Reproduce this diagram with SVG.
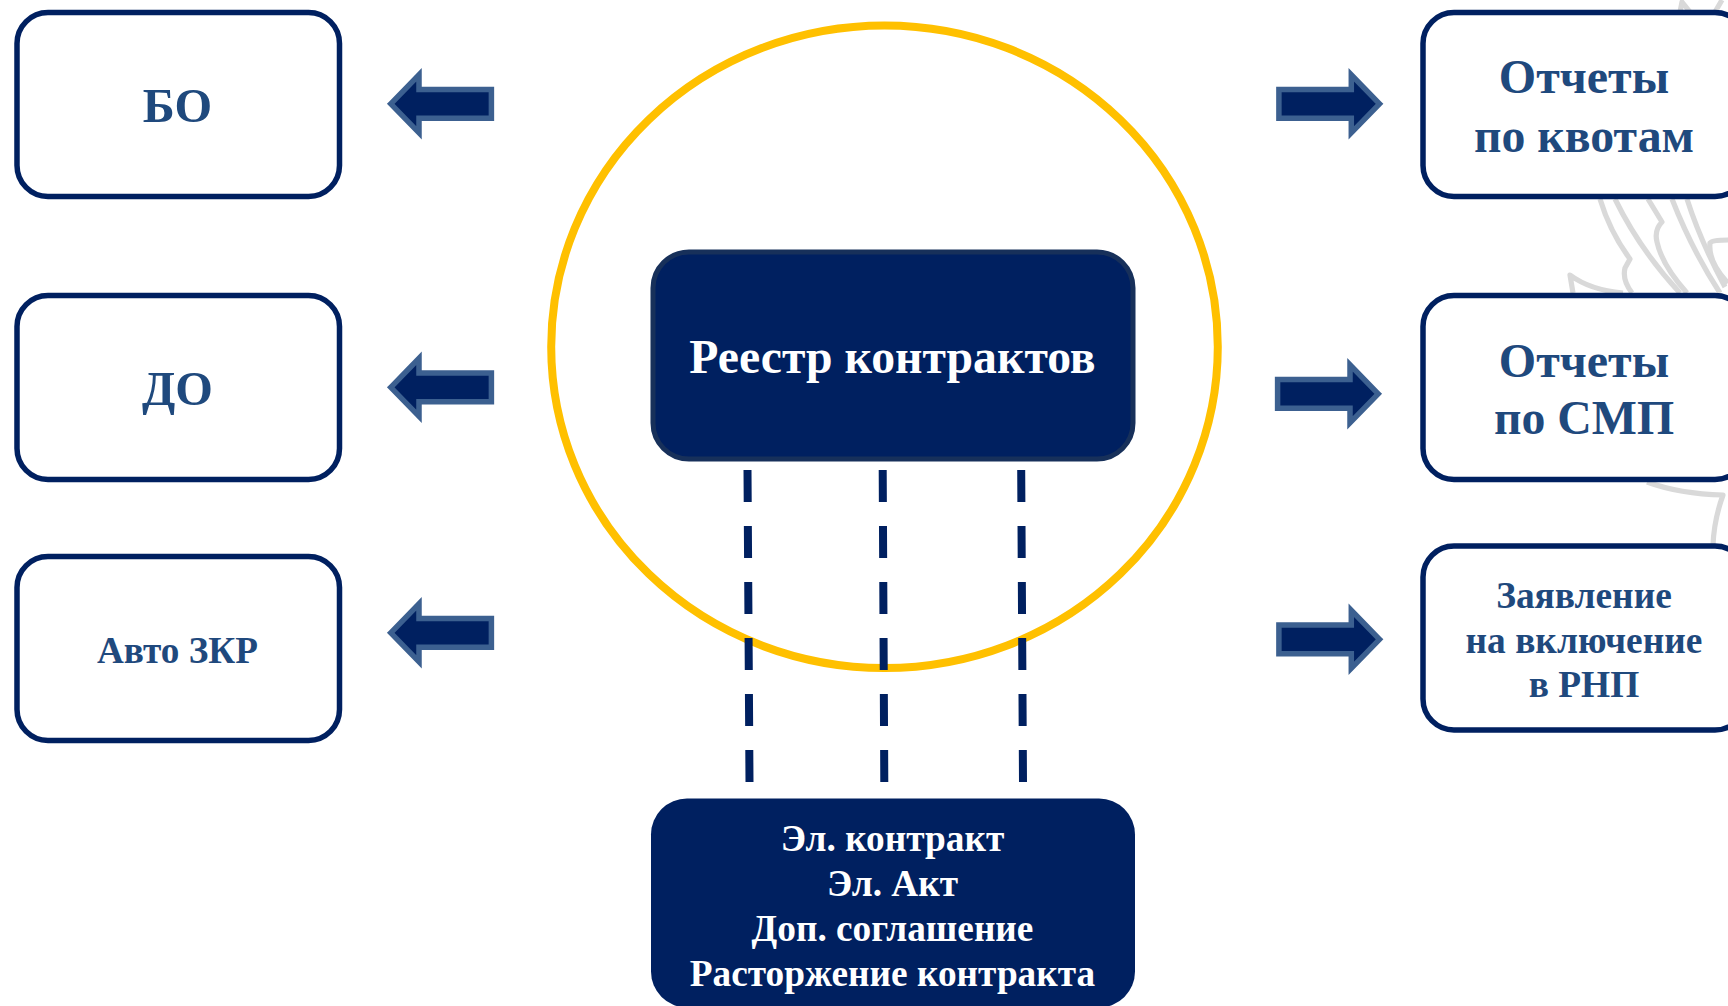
<svg xmlns="http://www.w3.org/2000/svg" width="1728" height="1006" viewBox="0 0 1728 1006">
<style>
text{font-family:"Liberation Serif","Times New Roman",serif;font-weight:700;text-anchor:middle}
.box{fill:#fff;stroke:#002060;stroke-width:5.5}
.lbl{fill:#1f497d}
.wht{fill:#fff}
.dark{fill:#002060}
.arrow{fill:#002060;stroke:#3c6090;stroke-width:5.5}
.wm{fill:none;stroke:#d9d9d9;stroke-width:5.2;stroke-linejoin:round}
.dash{stroke:#002060;stroke-width:8;stroke-dasharray:32 24;fill:none}
</style>
<defs>
<polygon id="arrowL" points="3.75,0 32,-29 32,-14.4 104.4,-14.4 104.4,14.4 32,14.4 32,29"/>
</defs>
<rect width="1728" height="1006" fill="#fff"/>
<g id="watermark">
<path class="wm" d="M1600 199Q1610 232 1630 259L1625 268Q1622 280 1632 293"/>
<path class="wm" d="M1615 199Q1640 250 1680 293"/>
<path class="wm" d="M1648 199L1662 222Q1654 230 1657 242Q1662 265 1687 293"/>
<path class="wm" d="M1672 199Q1692 250 1720 293"/>
<path class="wm" d="M1687 199Q1700 240 1725 287"/>
<path class="wm" d="M1728 240Q1712 240 1710 243Q1708 262 1728 283"/>
<path class="wm" d="M1573 293L1570 275Q1590 290 1623 293"/>
<path class="wm" d="M1680 12L1682 2L1690 12M1722 0L1715 12"/>
<path class="wm" d="M1647 482Q1680 494 1723 495Q1714 520 1713 545"/>
</g>
<g id="circle"><ellipse cx="884.5" cy="346.8" rx="333.3" ry="321.3" fill="none" stroke="#ffc000" stroke-width="8"/></g>
<g id="connectors">
<path class="dash" d="M747.5 470L749.5 782.5"/>
<path class="dash" d="M882.7 470L884.3 782.5"/>
<path class="dash" d="M1021.2 470L1023 782.5"/>
<use class="arrow" href="#arrowL" transform="translate(387 103.8)"/>
<use class="arrow" href="#arrowL" transform="translate(387 387.3)"/>
<use class="arrow" href="#arrowL" transform="translate(387 632.8)"/>
<use class="arrow" href="#arrowL" transform="translate(1383.3 103.8) scale(-1 1)"/>
<use class="arrow" href="#arrowL" transform="translate(1382 393.8) scale(-1 1)"/>
<use class="arrow" href="#arrowL" transform="translate(1383.3 639.3) scale(-1 1)"/>
</g>
<g id="node-bo"><rect class="box" x="17" y="12.5" width="322.5" height="184" rx="31"/><text class="lbl" x="177.5" y="122" font-size="48.4">БО</text></g>
<g id="node-do"><rect class="box" x="17" y="295.5" width="322.5" height="184" rx="31"/><text class="lbl" x="177.5" y="405" font-size="48.4">ДО</text></g>
<g id="node-zkr"><rect class="box" x="17" y="556.5" width="322.5" height="184" rx="31"/><text class="lbl" x="177.5" y="663" font-size="37.2">Авто ЗКР</text></g>
<g id="node-quota"><rect class="box" x="1423" y="12.5" width="323" height="184" rx="31"/><text class="lbl" x="1584" y="93" font-size="48">Отчеты</text><text class="lbl" x="1584" y="151.5" font-size="47.8">по квотам</text></g>
<g id="node-smp"><rect class="box" x="1423" y="295.5" width="323" height="184" rx="31"/><text class="lbl" x="1584" y="377" font-size="48">Отчеты</text><text class="lbl" x="1584" y="434" font-size="47.8">по СМП</text></g>
<g id="node-rnp"><rect class="box" x="1423" y="546" width="323" height="184" rx="31"/><text class="lbl" x="1584" y="608" font-size="37.4">Заявление</text><text class="lbl" x="1584" y="653" font-size="37.4">на включение</text><text class="lbl" x="1584" y="697" font-size="37.4">в РНП</text></g>
<g id="node-registry"><rect x="653" y="252" width="480" height="207" rx="36" class="dark" stroke="#17305a" stroke-width="5"/><text class="wht" x="892.5" y="373" font-size="47.7">Реестр контрактов</text></g>
<g id="node-docs"><rect x="651" y="798.5" width="484" height="209" rx="36" class="dark"/>
<text class="wht" x="892.5" y="851" font-size="37.3">Эл. контракт</text>
<text class="wht" x="892.5" y="896" font-size="37.3">Эл. Акт</text>
<text class="wht" x="892.5" y="941" font-size="37.3">Доп. соглашение</text>
<text class="wht" x="892.5" y="986" font-size="37.3">Расторжение контракта</text></g>
</svg>
